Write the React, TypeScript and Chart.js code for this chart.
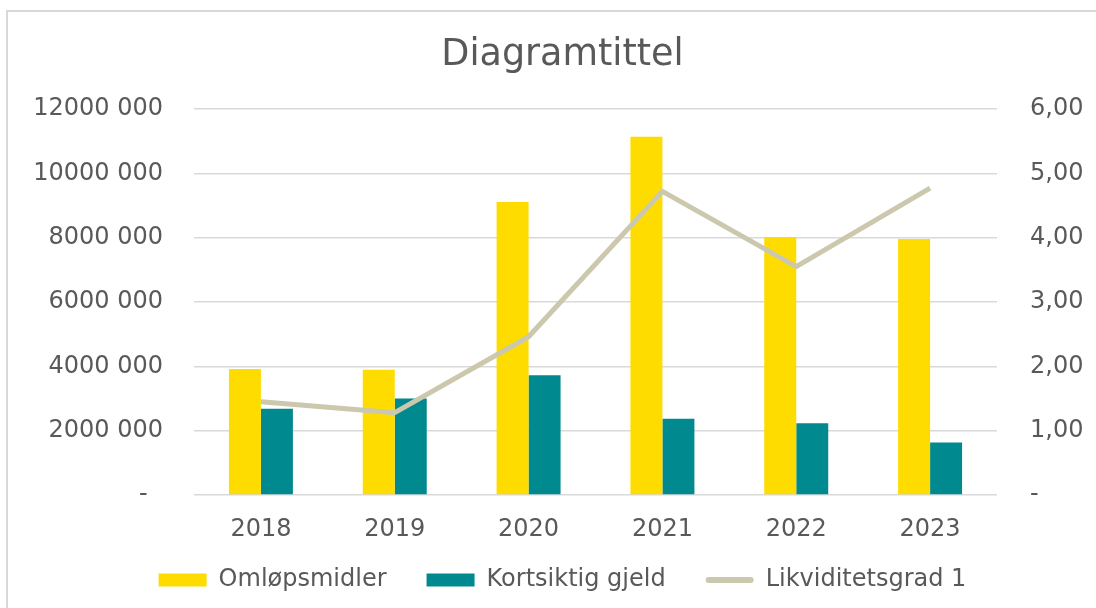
import React, { useEffect, useRef } from 'react';
import { Chart, registerables } from 'chart.js';

Chart.register(...registerables);

const years = ['2018', '2019', '2020', '2021', '2022', '2023'];
const omlopsmidler = [3920000, 3890000, 9110000, 11140000, 8020000, 7960000];
const kortsiktigGjeld = [2680000, 3000000, 3720000, 2370000, 2230000, 1630000];
const likviditetsgrad = [1.45, 1.28, 2.46, 4.72, 3.55, 4.77];
const leftTickLabels = ['-  ', '2000 000', '4000 000', '6000 000', '8000 000', '10000 000', '12000 000'];
const rightTickLabels = ['-', '1,00', '2,00', '3,00', '4,00', '5,00', '6,00'];

const YELLOW = '#FFDC00';
const TEAL = '#008A8F';
const LINE = '#CBC8AD';
const TEXT = '#595959';
const GRID = '#D9D9D9';
const FONT = '"DejaVu Sans", Verdana, sans-serif';

const legendLinePlugin = {
  id: 'legendLine',
  afterDraw(chart: any) {
    const legend = chart.legend;
    if (!legend || !legend.legendItems) return;
    const ctx = chart.ctx;
    legend.legendItems.forEach((item: any, i: number) => {
      if (item.datasetIndex !== 2) return;
      const hb = legend.legendHitBoxes[i];
      if (!hb) return;
      const bw = legend.options.labels.boxWidth;
      const fs = legend.options.labels.font.size;
      const y = hb.top + fs / 2;
      ctx.save();
      ctx.strokeStyle = LINE;
      ctx.lineWidth = 6;
      ctx.lineCap = 'round';
      ctx.beginPath();
      ctx.moveTo(hb.left + 3, y);
      ctx.lineTo(hb.left + bw - 3, y);
      ctx.stroke();
      ctx.restore();
    });
  },
};

export default function App() {
  const ref = useRef<HTMLCanvasElement | null>(null);

  useEffect(() => {
    if (!ref.current) return;
    const chart = new Chart(ref.current, {
      type: 'bar',
      data: {
        labels: years,
        datasets: [
          {
            type: 'bar',
            label: 'Omløpsmidler',
            data: omlopsmidler,
            backgroundColor: YELLOW,
            borderWidth: 0,
            yAxisID: 'y',
            order: 1,
            categoryPercentage: 0.478,
            barPercentage: 1,
          },
          {
            type: 'bar',
            label: 'Kortsiktig gjeld',
            data: kortsiktigGjeld,
            backgroundColor: TEAL,
            borderWidth: 0,
            yAxisID: 'y',
            order: 1,
            categoryPercentage: 0.478,
            barPercentage: 1,
          },
          {
            type: 'line',
            label: 'Likviditetsgrad 1',
            data: likviditetsgrad,
            borderColor: LINE,
            backgroundColor: LINE,
            borderWidth: 5,
            pointRadius: 0,
            borderJoinStyle: 'round',
            tension: 0,
            yAxisID: 'y1',
            order: 0,
          } as any,
        ],
      },
      options: {
        responsive: false,
        animation: false,
        layout: { padding: { left: 29, right: 0, top: 0, bottom: 6 } },
        plugins: {
          tooltip: { enabled: false },
          title: {
            display: true,
            text: 'Diagramtittel',
            color: TEXT,
            font: { family: FONT, size: 36.5, weight: 'normal' as any },
            padding: { top: 33.6, bottom: 31.6 },
          },
          legend: {
            position: 'bottom',
            labels: {
              color: TEXT,
              font: { family: FONT, size: 24 },
              boxWidth: 48,
              boxHeight: 13,
              padding: 40,
              sort: (a: any, b: any) => a.datasetIndex - b.datasetIndex,
              generateLabels: (chart: any) => {
                const items = Chart.defaults.plugins.legend.labels.generateLabels(chart);
                return items.map((it: any) => {
                  if (it.datasetIndex === 2) {
                    return { ...it, fillStyle: 'rgba(0,0,0,0)', strokeStyle: 'rgba(0,0,0,0)', lineWidth: 0 };
                  }
                  return { ...it, lineWidth: 0 };
                });
              },
            },
          },
        },
        scales: {
          x: {
            grid: { display: false },
            border: { display: false },
            ticks: { color: TEXT, font: { family: FONT, size: 24 }, padding: 12 },
            afterFit: (scale: any) => {
              scale.height = 33;
              // let the tick labels draw below the (compact) axis box without clipping
              scale._computeLabelArea = () => undefined;
            },
          },
          y: {
            position: 'left',
            min: 0,
            max: 12000000,
            grid: { color: GRID, lineWidth: 1.5, drawTicks: false },
            border: { display: false },
            ticks: {
              stepSize: 2000000,
              color: TEXT,
              font: { family: FONT, size: 24 },
              padding: 31,
              callback: (_v: any, i: number) => leftTickLabels[i],
            },
            afterFit: (scale: any) => {
              scale.width = 165;
            },
          },
          y1: {
            position: 'right',
            min: 0,
            max: 6,
            grid: { display: false, drawTicks: false },
            border: { display: false },
            ticks: {
              stepSize: 1,
              color: TEXT,
              font: { family: FONT, size: 24 },
              padding: 33,
              callback: (_v: any, i: number) => rightTickLabels[i],
            },
            afterFit: (scale: any) => {
              scale.width = 99;
            },
          },
        },
      },
      plugins: [legendLinePlugin],
    });
    return () => chart.destroy();
  }, []);

  return (
    <div style={{ position: 'fixed', left: 0, top: 0, width: 1096, height: 608, overflow: 'hidden', background: '#fff' }}>
      <div
        style={{
          position: 'absolute',
          left: 6,
          top: 10,
          width: 1200,
          height: 700,
          border: '2px solid #D9D9D9',
          boxSizing: 'border-box',
        }}
      />
      <canvas ref={ref} width={1096} height={608} style={{ position: 'absolute', left: 0, top: 0, width: 1096, height: 608 }} />
    </div>
  );
}
